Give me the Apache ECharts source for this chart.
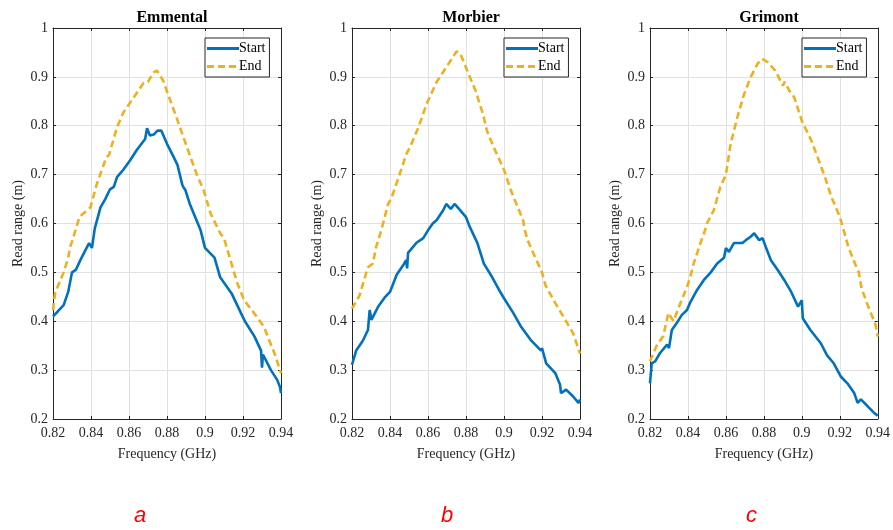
<!DOCTYPE html>
<html>
<head>
<meta charset="utf-8">
<script src="https://cdn.jsdelivr.net/npm/echarts@6/dist/echarts.min.js"></script>
<style>
html,body{margin:0;padding:0;background:#fff;}
#chart{width:893px;height:530px;}
</style>
</head>
<body>
<div id="chart"></div>
<script>
// ---- data ----
var panelTitles = ['Emmental', 'Morbier', 'Grimont'];
var panelLetters = ['a', 'b', 'c'];
var seriesNames = ['Start', 'End'];
var xTicks = [0.82, 0.84, 0.86, 0.88, 0.9, 0.92, 0.94];
var yTicks = [0.2, 0.3, 0.4, 0.5, 0.6, 0.7, 0.8, 0.9, 1];

var emmStartX = [0.82,0.8225,0.8256,0.828,0.83,0.832,0.8344,0.837,0.839,0.8405,0.842,0.845,0.8475,0.85,0.852,0.8537,0.857,0.8607,0.864,0.8685,0.8695,0.871,0.873,0.875,0.877,0.88,0.883,0.8855,0.888,0.8885,0.8897,0.892,0.8977,0.9,0.905,0.908,0.914,0.919,0.9195,0.921,0.926,0.9295,0.93,0.9305,0.931,0.9347,0.938,0.9395,0.94];
var emmStartY = [0.41,0.42,0.433,0.46,0.5,0.505,0.525,0.545,0.56,0.55,0.59,0.633,0.65,0.67,0.675,0.695,0.71,0.73,0.75,0.773,0.795,0.78,0.782,0.79,0.79,0.763,0.74,0.72,0.68,0.675,0.668,0.64,0.586,0.55,0.53,0.49,0.457,0.416,0.412,0.4,0.369,0.34,0.305,0.332,0.328,0.3,0.28,0.265,0.253];
var emmEndX = [0.82,0.8212,0.8235,0.8256,0.828,0.829,0.83,0.834,0.8397,0.843,0.848,0.8495,0.8537,0.857,0.8625,0.8677,0.87,0.873,0.8747,0.878,0.8818,0.885,0.8905,0.8957,0.8993,0.903,0.908,0.91,0.9134,0.917,0.9206,0.926,0.931,0.9365,0.94];
var emmEndY = [0.423,0.46,0.48,0.5,0.53,0.552,0.563,0.614,0.633,0.68,0.735,0.74,0.797,0.827,0.858,0.888,0.89,0.909,0.913,0.892,0.851,0.817,0.756,0.7,0.668,0.62,0.58,0.57,0.525,0.478,0.443,0.416,0.389,0.335,0.294];

var morStartX = [0.82,0.8222,0.8257,0.8284,0.8293,0.8302,0.8338,0.8375,0.84,0.8435,0.847,0.8485,0.849,0.8495,0.8538,0.8575,0.86,0.8625,0.8646,0.868,0.8696,0.872,0.874,0.877,0.88,0.882,0.886,0.8894,0.8938,0.8974,0.9,0.905,0.9088,0.914,0.9195,0.92,0.9222,0.927,0.9295,0.93,0.9327,0.9364,0.9392,0.94];
var morStartY = [0.311,0.34,0.36,0.382,0.423,0.403,0.43,0.45,0.46,0.495,0.515,0.525,0.508,0.54,0.56,0.57,0.586,0.6,0.607,0.627,0.64,0.63,0.64,0.627,0.613,0.593,0.56,0.518,0.49,0.464,0.447,0.416,0.39,0.362,0.34,0.345,0.314,0.294,0.27,0.253,0.26,0.246,0.233,0.24];
var morEndX = [0.82,0.824,0.8283,0.831,0.8327,0.8354,0.839,0.8407,0.845,0.8486,0.8504,0.855,0.8593,0.8646,0.868,0.873,0.875,0.877,0.8805,0.885,0.889,0.891,0.8947,0.9,0.9036,0.91,0.911,0.9124,0.9165,0.92,0.9218,0.927,0.9327,0.9364,0.94];
var morEndY = [0.426,0.453,0.51,0.518,0.552,0.586,0.64,0.651,0.7,0.742,0.755,0.797,0.845,0.89,0.91,0.94,0.952,0.948,0.914,0.872,0.823,0.79,0.755,0.71,0.668,0.607,0.586,0.566,0.53,0.5,0.474,0.437,0.4,0.375,0.334];

var griStartX = [0.82,0.8209,0.8227,0.8253,0.829,0.83,0.8315,0.834,0.8368,0.8395,0.841,0.8448,0.8483,0.852,0.8554,0.859,0.86,0.8616,0.8642,0.8687,0.8705,0.873,0.8749,0.8775,0.8793,0.881,0.8837,0.8873,0.8908,0.8944,0.898,0.9,0.9005,0.9045,0.91,0.9133,0.9168,0.9205,0.924,0.9276,0.9294,0.9311,0.9347,0.9382,0.94];
var griStartY = [0.273,0.314,0.318,0.335,0.352,0.345,0.382,0.396,0.413,0.423,0.437,0.464,0.484,0.5,0.518,0.53,0.55,0.542,0.56,0.56,0.566,0.573,0.58,0.566,0.57,0.552,0.525,0.505,0.484,0.46,0.43,0.443,0.406,0.382,0.355,0.33,0.314,0.287,0.273,0.253,0.233,0.24,0.226,0.212,0.207];
var griEndX = [0.82,0.8235,0.827,0.8297,0.8324,0.836,0.8395,0.8412,0.843,0.8466,0.849,0.85,0.8536,0.857,0.86,0.8625,0.866,0.8695,0.873,0.8767,0.879,0.882,0.886,0.89,0.891,0.8935,0.896,0.9,0.905,0.91,0.912,0.9155,0.92,0.9225,0.9245,0.928,0.93,0.9315,0.935,0.9386,0.94];
var griEndY = [0.318,0.35,0.37,0.417,0.4,0.437,0.47,0.49,0.518,0.56,0.586,0.6,0.627,0.674,0.7,0.763,0.817,0.864,0.899,0.927,0.937,0.93,0.913,0.882,0.89,0.871,0.858,0.81,0.77,0.718,0.697,0.655,0.614,0.58,0.552,0.518,0.5,0.467,0.43,0.396,0.369];

var panelData = [
  [[emmStartX, emmStartY], [emmEndX, emmEndY]],
  [[morStartX, morStartY], [morEndX, morEndY]],
  [[griStartX, griStartY], [griEndX, griEndY]]
];

// ---- layout / style ----
var gridLefts = [53, 352, 650];
var gridW = 228, gridTop = 28, gridH = 391;
var lineColors = ['#0072BD', '#EDB120'];
var axisCol = '#262626';
var serif = '"Liberation Serif", "Times New Roman", serif';
var legendIcons = ['path://M0,0h32v3h-32z', 'path://M0,0h7v3h-7zM11,0h7v3h-7zM22,0h7v3h-7zM32,0h0v3h0z'];

function zip(xs, ys) { var o = []; for (var i = 0; i < xs.length; i++) o.push([xs[i], ys[i]]); return o; }
function fmt(v) { return String(parseFloat(v.toFixed(2))); }

var option = { animation: false, grid: [], xAxis: [], yAxis: [], series: [], title: [], legend: [] };

for (var p = 0; p < 3; p++) {
  option.grid.push({ left: gridLefts[p], top: gridTop, width: gridW, height: gridH, show: false, containLabel: false });
  option.xAxis.push({
    type: 'value', gridIndex: p, min: xTicks[0], max: xTicks[xTicks.length - 1], interval: 0.02,
    position: 'bottom',
    name: 'Frequency (GHz)', nameLocation: 'middle', nameGap: 28,
    nameTextStyle: { fontFamily: serif, fontSize: 14, color: axisCol },
    axisLine: { show: true, onZero: false, lineStyle: { color: axisCol, width: 1 } },
    axisTick: { show: true, inside: true, length: 3, lineStyle: { color: axisCol } },
    axisLabel: { fontFamily: serif, fontSize: 14, color: axisCol, margin: 7, formatter: fmt, showMinLabel: true, showMaxLabel: true },
    splitLine: { show: true, lineStyle: { color: '#e1e1e1', width: 1 } }
  });
  option.xAxis.push({
    type: 'value', gridIndex: p, min: xTicks[0], max: xTicks[xTicks.length - 1], interval: 0.02,
    position: 'top',
    axisLine: { show: true, onZero: false, lineStyle: { color: axisCol, width: 1 } },
    axisTick: { show: true, inside: true, length: 3, lineStyle: { color: axisCol } },
    axisLabel: { show: false }, splitLine: { show: false }
  });
  option.yAxis.push({
    type: 'value', gridIndex: p, min: yTicks[0], max: yTicks[yTicks.length - 1], interval: 0.1,
    position: 'left',
    name: 'Read range (m)', nameLocation: 'middle', nameGap: 28, nameRotate: 90,
    nameTextStyle: { fontFamily: serif, fontSize: 14, color: axisCol },
    axisLine: { show: true, onZero: false, lineStyle: { color: axisCol, width: 1 } },
    axisTick: { show: true, inside: true, length: 3, lineStyle: { color: axisCol } },
    axisLabel: { fontFamily: serif, fontSize: 14, color: axisCol, margin: 5, formatter: fmt },
    splitLine: { show: true, lineStyle: { color: '#e1e1e1', width: 1 } }
  });
  option.yAxis.push({
    type: 'value', gridIndex: p, min: yTicks[0], max: yTicks[yTicks.length - 1], interval: 0.1,
    position: 'right',
    axisLine: { show: true, onZero: false, lineStyle: { color: axisCol, width: 1 } },
    axisTick: { show: true, inside: true, length: 3, lineStyle: { color: axisCol } },
    axisLabel: { show: false }, splitLine: { show: false }
  });
  for (var s = 0; s < 2; s++) {
    option.series.push({
      type: 'line', name: seriesNames[s], xAxisIndex: p * 2, yAxisIndex: p * 2,
      data: zip(panelData[p][s][0], panelData[p][s][1]),
      symbol: 'none', showSymbol: false, smooth: false, z: s === 0 ? 3 : 2,
      lineStyle: { color: lineColors[s], width: 2.6, type: s === 0 ? 'solid' : [7, 4] },
      itemStyle: { color: lineColors[s] }
    });
  }
  option.title.push({
    text: panelTitles[p], left: gridLefts[p] + gridW / 2, top: 5, textAlign: 'center',
    textStyle: { fontFamily: serif, fontSize: 16, fontWeight: 'bold', color: '#000' }
  });
  option.legend.push({
    data: [
      { name: seriesNames[0], icon: legendIcons[0], itemStyle: { color: lineColors[0] } },
      { name: seriesNames[1], icon: legendIcons[1], itemStyle: { color: lineColors[1] } }
    ],
    left: gridLefts[p] + 152, top: 38, orient: 'vertical',
    backgroundColor: '#fff', borderColor: axisCol, borderWidth: 1, borderRadius: 0,
    padding: [3, 4, 3, 2], itemGap: 3, itemWidth: 32, itemHeight: 3,
    textStyle: { fontFamily: serif, fontSize: 14, lineHeight: 15, color: '#000', padding: [0, 0, 0, -5] },
    selectedMode: false
  });
}

var letterX = [140, 447, 752];
option.graphic = [];
for (var k = 0; k < 3; k++) {
  option.graphic.push({
    type: 'text', left: letterX[k] - 6, top: 505,
    style: { text: panelLetters[k], font: 'italic 22px "Liberation Sans", Arial, sans-serif', fill: '#ff0000' }
  });
}

var chart = echarts.init(document.getElementById('chart'), null, { renderer: 'canvas' });
chart.setOption(option);
</script>
</body>
</html>
